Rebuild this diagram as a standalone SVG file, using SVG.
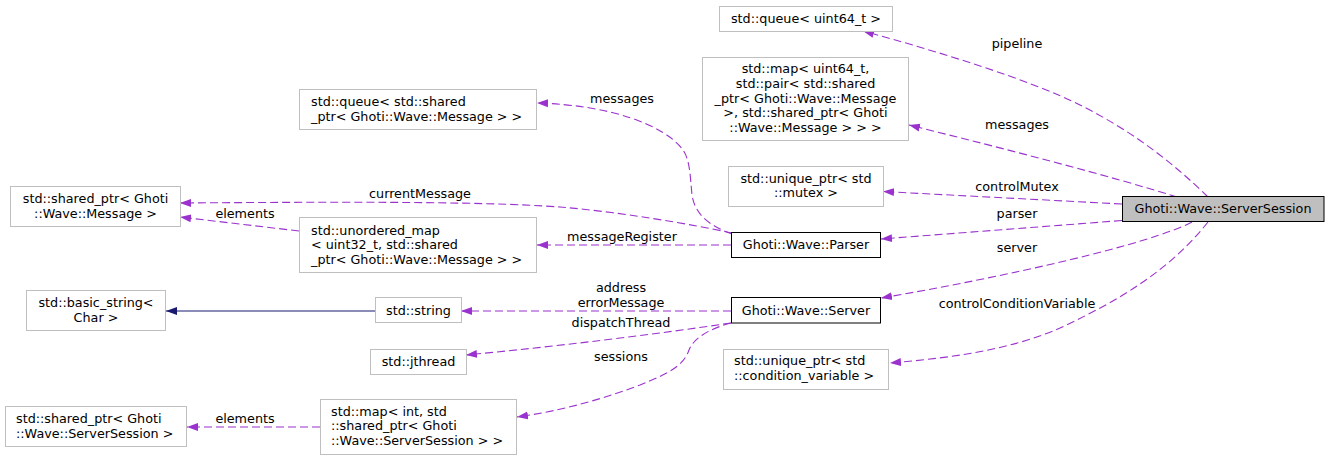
<svg xmlns="http://www.w3.org/2000/svg" width="1329" height="460" viewBox="0 0 1329 460">
<defs>
<style>
text{font-family:"DejaVu Sans","Liberation Sans",sans-serif;font-size:12.75px;fill:#000}
.c{text-anchor:middle}
.ext{fill:#fff;stroke:#bfbfbf;stroke-width:1}
.cls{fill:#fff;stroke:#000;stroke-width:1}
.cur{fill:#bfbfbf;stroke:#000;stroke-width:1}
.e{fill:none;stroke:#9a32cd;stroke-width:1.1;stroke-dasharray:8,4;marker-end:url(#ap)}
.inh{fill:none;stroke:#191970;stroke-width:1.1;marker-end:url(#ab)}
</style>
<marker id="ap" markerWidth="12" markerHeight="9" refX="11" refY="4.5" orient="auto" markerUnits="userSpaceOnUse"><path d="M0,0.5L11,4.5L0,8.5z" fill="#9a32cd" stroke="none"/></marker>
<marker id="ab" markerWidth="12" markerHeight="9" refX="11" refY="4.5" orient="auto" markerUnits="userSpaceOnUse"><path d="M0,0.5L11,4.5L0,8.5z" fill="#191970" stroke="none"/></marker>
</defs>
<rect width="1329" height="460" fill="#fff"/>

<g id="connectors">
<path class="e" d="M1208,197 C1170,160 1130,130 1080,105 S940,52 863,31"/>
<text class="c" x="1017" y="48">pipeline</text>
<path class="e" d="M1177,197 C1110,176 1010,150 909,125"/>
<text class="c" x="1017" y="129">messages</text>
<path class="e" d="M1122,204 L883,191.5"/>
<text class="c" x="1017" y="191">controlMutex</text>
<path class="e" d="M1122,220.5 L881,239"/>
<text class="c" x="1017" y="218">parser</text>
<path class="e" d="M1192,222 C1150,244 1010,276 881,298"/>
<text class="c" x="1017" y="252">server</text>
<path class="e" d="M1208,222 C1170,270 1120,300 1060,328 C1010,350 950,358 890,363"/>
<text class="c" x="1017" y="308">controlConditionVariable</text>
<path class="e" d="M732,234 C710,226 695,215 692,195 C690,175 690,160 683,150 C665,125 610,105 537,103"/>
<text class="c" x="622" y="103">messages</text>
<path class="e" d="M732,233 C690,224 620,212 560,207 C480,201 320,202 180,203"/>
<text class="c" x="420" y="198">currentMessage</text>
<path class="e" d="M731,245 L537,245"/>
<text class="c" x="622" y="241">messageRegister</text>
<path class="e" d="M299,231 L180,217"/>
<text class="c" x="245" y="218">elements</text>
<path class="inh" d="M375,311 L166,311"/>
<path class="e" d="M731,311 L461,311"/>
<text class="c" x="621" y="292">address</text>
<text class="c" x="621" y="307">errorMessage</text>
<path class="e" d="M731,323 C650,335 560,346 466,355"/>
<text class="c" x="621" y="327">dispatchThread</text>
<path class="e" d="M731,323 C705,330 693,340 689,350 C684,365 670,373 640,385 C600,400 560,411 517,417"/>
<text class="c" x="621" y="361">sessions</text>
<path class="e" d="M320,427 L187,427"/>
<text class="c" x="245" y="423">elements</text>
</g>

<g id="node_queue_uint64">
<rect class="ext" x="719.5" y="6.5" width="173" height="25"/>
<text class="c" x="806" y="23">std::queue&lt; uint64_t &gt;</text>
</g>
<g id="node_map_uint64">
<rect class="ext" x="702.5" y="57.5" width="206" height="83"/>
<text class="c" x="805.5" y="73">std::map&lt; uint64_t,</text>
<text class="c" x="805.5" y="88"> std::pair&lt; std::shared</text>
<text class="c" x="805.5" y="102.5">_ptr&lt; Ghoti::Wave::Message</text>
<text class="c" x="805.5" y="117"> &gt;, std::shared_ptr&lt; Ghoti</text>
<text class="c" x="805.5" y="132">::Wave::Message &gt; &gt; &gt;</text>
</g>
<g id="node_queue_shared">
<rect class="ext" x="299.5" y="89.5" width="237" height="40"/>
<text x="311" y="105.5">std::queue&lt; std::shared</text>
<text x="311" y="120.5">_ptr&lt; Ghoti::Wave::Message &gt; &gt;</text>
</g>
<g id="node_shared_message">
<rect class="ext" x="10.5" y="186.5" width="170" height="40"/>
<text class="c" x="95.5" y="203">std::shared_ptr&lt; Ghoti</text>
<text class="c" x="95.5" y="218">::Wave::Message &gt;</text>
</g>
<g id="node_unordered_map">
<rect class="ext" x="299.5" y="217.5" width="237" height="55"/>
<text x="311" y="234.5">std::unordered_map</text>
<text x="311" y="249">&lt; uint32_t, std::shared</text>
<text x="311" y="264">_ptr&lt; Ghoti::Wave::Message &gt; &gt;</text>
</g>
<g id="node_unique_mutex">
<rect class="ext" x="728.5" y="166.5" width="155" height="40"/>
<text class="c" x="806" y="182.5">std::unique_ptr&lt; std</text>
<text class="c" x="806" y="197">::mutex &gt;</text>
</g>
<g id="node_parser">
<rect class="cls" x="731.5" y="232.5" width="149" height="25"/>
<text class="c" x="806" y="249">Ghoti::Wave::Parser</text>
</g>
<g id="node_serversession">
<rect class="cur" x="1122.5" y="196.5" width="201.5" height="25"/>
<text class="c" x="1223" y="213.3">Ghoti::Wave::ServerSession</text>
</g>
<g id="node_basic_string">
<rect class="ext" x="26.5" y="290.5" width="139" height="40"/>
<text class="c" x="96" y="307">std::basic_string&lt;</text>
<text class="c" x="96" y="321.5">Char &gt;</text>
</g>
<g id="node_string">
<rect class="ext" x="375.5" y="297.5" width="86" height="25"/>
<text class="c" x="418.5" y="314.5">std::string</text>
</g>
<g id="node_server">
<rect class="cls" x="731.5" y="297.5" width="149" height="25.5"/>
<text class="c" x="806" y="314.5">Ghoti::Wave::Server</text>
</g>
<g id="node_jthread">
<rect class="ext" x="370.5" y="349.5" width="96" height="25"/>
<text class="c" x="418.5" y="366">std::jthread</text>
</g>
<g id="node_unique_cv">
<rect class="ext" x="723.5" y="349.5" width="165" height="40"/>
<text x="734" y="365">std::unique_ptr&lt; std</text>
<text x="734" y="380">::condition_variable &gt;</text>
</g>
<g id="node_map_int">
<rect class="ext" x="320.5" y="399.5" width="196" height="55"/>
<text x="331" y="415.5">std::map&lt; int, std</text>
<text x="331" y="430">::shared_ptr&lt; Ghoti</text>
<text x="331" y="445">::Wave::ServerSession &gt; &gt;</text>
</g>
<g id="node_shared_session">
<rect class="ext" x="5.5" y="406.5" width="181" height="40"/>
<text x="16" y="423">std::shared_ptr&lt; Ghoti</text>
<text x="16" y="437.5">::Wave::ServerSession &gt;</text>
</g>
</svg>
